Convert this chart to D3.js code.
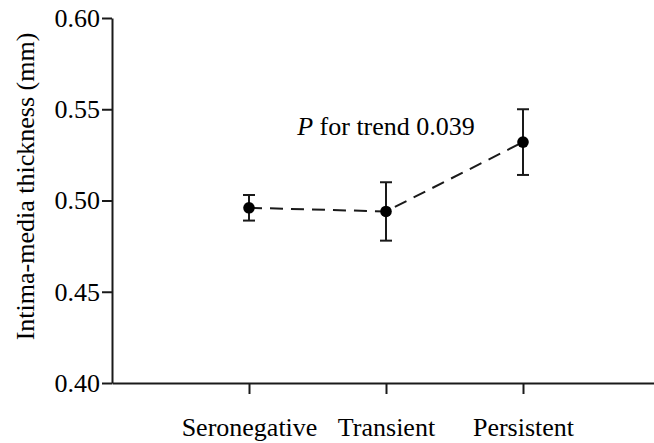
<!DOCTYPE html>
<html>
<head>
<meta charset="utf-8">
<script src="https://cdn.jsdelivr.net/npm/d3@7"></script>
<style>
html,body{margin:0;padding:0;background:#fff;}
svg{display:block;}
</style>
</head>
<body>
<svg id="chart" width="654" height="443" font-family="Liberation Serif"></svg>
<script>
const categories = ["Seronegative", "Transient", "Persistent"];
const means = [0.496, 0.494, 0.532];
const upper = [0.503, 0.510, 0.550];
const lower = [0.489, 0.478, 0.514];
const yTicks = [0.40, 0.45, 0.50, 0.55, 0.60];
const yLabel = "Intima-media thickness (mm)";
const annotation = {italic: "P", rest: " for trend 0.039", category: 1, value: 0.536};

const FONT = "Liberation Serif";
const svg = d3.select("#chart");
const x = d3.scaleLinear().domain([0, 4]).range([112, 660]);
const y = d3.scaleLinear().domain([0.40, 0.60]).range([383, 18]);
const ink = "#1a1a1a";

// Y axis
const yAxis = svg.append("g")
  .attr("transform", `translate(${x(0)},0)`)
  .call(d3.axisLeft(y).tickValues(yTicks).tickFormat(d3.format(".2f")).tickSize(10).tickPadding(2).tickSizeOuter(0));
// X axis
const xAxis = svg.append("g")
  .attr("transform", `translate(0,${y(0.40)})`)
  .call(d3.axisBottom(x).tickValues([1, 2, 3]).tickFormat(i => categories[i - 1]).tickSize(11).tickPadding(24).tickSizeOuter(0));

[yAxis, xAxis].forEach(g => {
  g.attr("font-family", FONT).attr("font-size", 26);
  g.select(".domain").attr("stroke", ink).attr("stroke-width", 2);
  g.selectAll(".tick line").attr("stroke", ink).attr("stroke-width", 2);
  g.selectAll(".tick text").attr("fill", "#000").attr("font-family", FONT).attr("font-size", 26);
});

// Y label
svg.append("text")
  .attr("transform", `translate(34,${(y(0.40) + y(0.60)) / 2 - 14}) rotate(-90)`)
  .attr("text-anchor", "middle")
  .attr("font-family", FONT)
  .attr("font-size", 26)
  .attr("fill", "#000")
  .text(yLabel);

// Dashed connecting line
const line = d3.line().x((d, i) => x(i + 1)).y(d => y(d));
svg.append("path")
  .datum(means)
  .attr("d", line)
  .attr("fill", "none")
  .attr("stroke", ink)
  .attr("stroke-width", 2)
  .attr("stroke-dasharray", "13,8");

// Error bars
const eb = svg.append("g").attr("stroke", ink).attr("stroke-width", 2);
categories.forEach((c, i) => {
  const cx = x(i + 1);
  eb.append("line").attr("x1", cx).attr("x2", cx).attr("y1", y(upper[i])).attr("y2", y(lower[i]));
  eb.append("line").attr("x1", cx - 6).attr("x2", cx + 6).attr("y1", y(upper[i])).attr("y2", y(upper[i]));
  eb.append("line").attr("x1", cx - 6).attr("x2", cx + 6).attr("y1", y(lower[i])).attr("y2", y(lower[i]));
});

// Points
svg.append("g").selectAll("circle")
  .data(means)
  .join("circle")
  .attr("cx", (d, i) => x(i + 1))
  .attr("cy", d => y(d))
  .attr("r", 5.8)
  .attr("fill", "#000");

// Annotation
const ann = svg.append("text")
  .attr("x", x(annotation.category + 1))
  .attr("y", y(annotation.value))
  .attr("text-anchor", "middle")
  .attr("font-family", FONT)
  .attr("font-size", 26)
  .attr("fill", "#000");
ann.append("tspan").attr("font-style", "italic").text(annotation.italic);
ann.append("tspan").text(annotation.rest);
</script>
</body>
</html>
